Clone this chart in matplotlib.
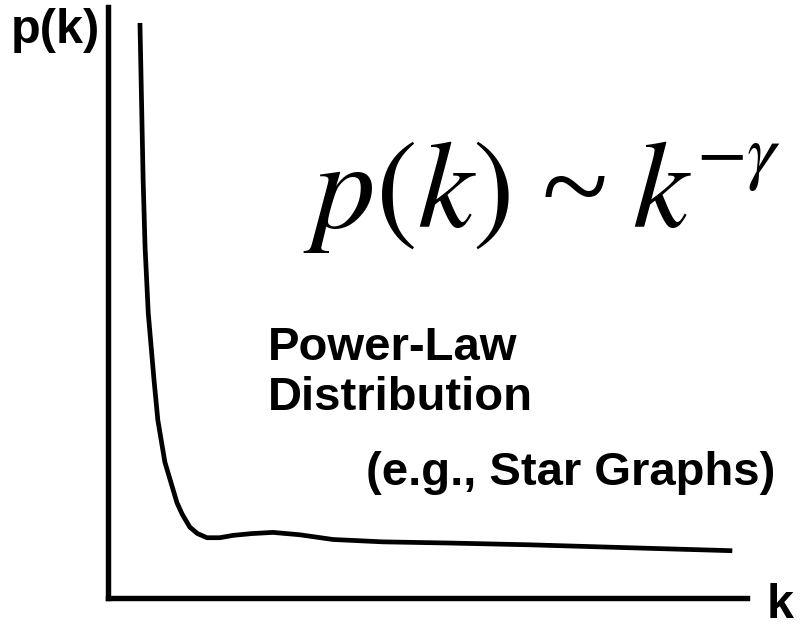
import matplotlib
matplotlib.use("Agg")
import matplotlib.pyplot as plt

# Curve (axis units: 0..100 on both axes)
k_vals = [5.0, 5.5, 5.8, 6.3, 7.2, 7.8, 8.9, 10.8, 11.6, 12.8, 14.0, 15.5, 17.5,
          19.6, 22.5, 25.8, 30.0, 35.2, 43.0, 53.5, 66.0, 81.7, 97.7]
p_vals = [97.3, 70.7, 59.4, 48.2, 36.9, 30.1, 23.0, 16.1, 14.2, 12.0, 10.9, 10.2, 10.2,
          10.6, 10.9, 11.1, 10.7, 9.9, 9.5, 9.3, 9.0, 8.5, 8.0]

y_label = "p(k)"
x_label = "k"
formula_parts = [r"$p(k)$", "~", r"$k$", r"$-\gamma$"]
note_lines = ["Power-Law", "Distribution"]
note_example = "(e.g., Star Graphs)"

W, H = 803, 628
plt.rcParams["mathtext.fontset"] = "stix"
fig = plt.figure(figsize=(W / 100, H / 100), dpi=100)
fig.patch.set_facecolor("white")

ax = fig.add_axes([108 / W, 1 - 598 / H, (747 - 108) / W, (598 - 7) / H])
ax.plot(k_vals, p_vals, color="black", lw=3.4, solid_joinstyle="round",
        solid_capstyle="butt")
ax.set_xlim(0, 100)
ax.set_ylim(0, 100)
ax.set_xticks([])
ax.set_yticks([])
for s in ("top", "right"):
    ax.spines[s].set_visible(False)
for s in ("left", "bottom"):
    ax.spines[s].set_linewidth(3.9)
    ax.spines[s].set_capstyle("projecting")

def fx(px):
    return px / W

def fy(py):
    return 1 - py / H

bold = dict(family="Liberation Sans", weight="bold", color="black")
fig.text(fx(11), fy(43), y_label, fontsize=35, ha="left", va="baseline", **bold)
fig.text(fx(767), fy(618), x_label, fontsize=35, ha="left", va="baseline", **bold)
fig.text(fx(268), fy(360), note_lines[0], fontsize=34, ha="left", va="baseline", **bold)
fig.text(fx(268), fy(410), note_lines[1], fontsize=34, ha="left", va="baseline", **bold)
fig.text(fx(366), fy(485), note_example, fontsize=34, ha="left", va="baseline", **bold)

# formula pieces
fig.text(fx(303), fy(227), formula_parts[0], fontsize=90, ha="left", va="baseline", color="black")
fig.text(fx(542), fy(227), formula_parts[1], fontsize=88, family="Liberation Serif",
         ha="left", va="baseline", color="black")
fig.text(fx(632), fy(227), formula_parts[2], fontsize=90, ha="left", va="baseline", color="black")
fig.text(fx(696), fy(176), formula_parts[3], fontsize=53, ha="left", va="baseline", color="black")

fig.savefig("out.png", dpi=100, facecolor="white")
